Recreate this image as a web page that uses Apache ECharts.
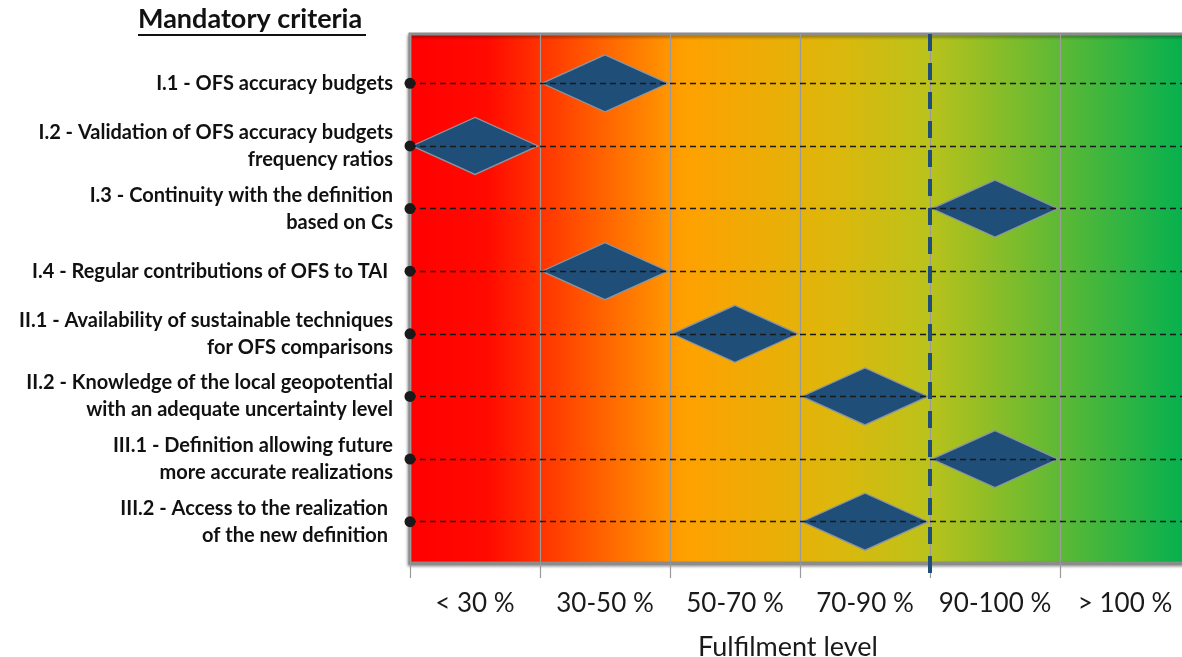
<!DOCTYPE html>
<html><head><meta charset="utf-8">
<script src="https://cdn.jsdelivr.net/npm/echarts@6/dist/echarts.min.js"></script>
<style>html,body{margin:0;padding:0;background:#fff}#c{width:1182px;height:657px}</style>
</head><body><div id="c"></div>
<script>
const criteria = [
  'I.1 - OFS accuracy budgets',
  'I.2 - Validation of OFS accuracy budgets\nfrequency ratios',
  'I.3 - Continuity with the definition\nbased on Cs',
  'I.4 - Regular contributions of OFS to TAI ',
  'II.1 - Availability of sustainable techniques\nfor OFS comparisons',
  'II.2 - Knowledge of the local geopotential\nwith an adequate uncertainty level',
  'III.1 - Definition allowing future\nmore accurate realizations',
  'III.2 - Access to the realization \nof the new definition '
];
const levels = ['< 30 %', '30-50 %', '50-70 %', '70-90 %', '90-100 %', '> 100 %'];
const fulfilment = ['30-50 %', '< 30 %', '90-100 %', '30-50 %', '50-70 %', '70-90 %', '90-100 %', '70-90 %'];
const thresholdBoundary = [4]; // boundary between "70-90 %" and "90-100 %"
const titleText = 'Mandatory criteria';
const axisTitle = 'Fulfilment level';

const chart = echarts.init(document.getElementById('c'), null, {renderer: 'canvas'});
const FONT = 'Lato';
const bg = new echarts.graphic.LinearGradient(0, 0, 1, 0, [
  {offset: 0.0, color: '#ff0000'},
  {offset: 0.1, color: '#ff0a00'},
  {offset: 0.35, color: '#ffa000'},
  {offset: 0.55, color: '#dcb80c'},
  {offset: 0.66, color: '#bcc21a'},
  {offset: 1.0, color: '#00b050'}
]);

chart.setOption({
  animation: false,
  textStyle: {fontFamily: FONT},
  graphic: [
    {type: 'text', left: 138, top: 6, style: {text: titleText, font: 'bold 27px Lato', fill: '#111'}},
    {type: 'line', shape: {x1: 138, y1: 35, x2: 366, y2: 35}, style: {stroke: '#111', lineWidth: 2}}
  ],
  grid: [
    {left: 410, width: 780, top: 34, bottom: 94, outerBoundsMode: 'none', containLabel: false,
     show: true, backgroundColor: bg,
     borderColor: '#8c8c8c', borderWidth: 3,
     shadowColor: 'rgba(0,0,0,0.35)', shadowBlur: 3, shadowOffsetX: -1, shadowOffsetY: 2},
    {left: 410, width: 780, top: 52, bottom: 104, outerBoundsMode: 'none', containLabel: false},
    {left: 410, width: 780, top: 34, bottom: 80, outerBoundsMode: 'none', containLabel: false}
  ],
  xAxis: [
    {gridIndex: 0, type: 'category', data: levels, boundaryGap: true,
     axisLine: {show: true, lineStyle: {color: '#8c8c8c', width: 3}},
     axisTick: {show: true, interval: 0, length: 15, lineStyle: {color: '#9a9a9a', width: 1.2}},
     splitLine: {show: true, interval: 0, lineStyle: {color: '#9a9a9a', width: 1.2}},
     axisLabel: {interval: 0, fontSize: 26, color: '#1a1a1a', margin: 28, fontFamily: FONT},
     name: axisTitle, nameLocation: 'middle', nameGap: 71,
     nameTextStyle: {fontSize: 27, color: '#1a1a1a', fontFamily: FONT, padding: [0, 24, 0, 0]}},
    {gridIndex: 1, type: 'category', data: levels, boundaryGap: true, show: false},
    {gridIndex: 2, type: 'value', min: 0, max: levels.length, show: false}
  ],
  yAxis: [
    {gridIndex: 0, type: 'value', min: 0, max: 1, show: false},
    {gridIndex: 1, type: 'category', data: criteria, inverse: true, boundaryGap: true,
     axisLine: {show: false}, axisTick: {show: false}, splitLine: {show: false},
     axisLabel: {interval: 0, fontSize: 20, fontWeight: 'bold', color: '#111', margin: 17, lineHeight: 27, fontFamily: FONT}},
    {gridIndex: 2, type: 'value', min: 0, max: 1, inverse: true, show: false}
  ],
  series: [
    {type: 'line', xAxisIndex: 1, yAxisIndex: 1, data: [], clip: false, z: 2,
     markLine: {silent: true, symbol: ['circle', 'none'], symbolSize: 11, animation: false,
       label: {show: false},
       lineStyle: {color: '#1a1a1a', type: [6, 4], width: 1.3},
       itemStyle: {color: '#000'},
       data: criteria.map(c => ({yAxis: c}))}},
    {type: 'scatter', xAxisIndex: 1, yAxisIndex: 1, z: 4,
     symbol: 'diamond', symbolSize: [126, 57],
     itemStyle: {color: '#1f4e79', borderColor: '#8a95a0', borderWidth: 1.5, opacity: 1},
     data: fulfilment.map((f, i) => [f, criteria[i]])},
    {type: 'line', xAxisIndex: 2, yAxisIndex: 2, data: [], clip: false, z: 5,
     markLine: {silent: true, symbol: ['none', 'none'], animation: false, label: {show: false},
       lineStyle: {color: '#1f4e79', type: [17, 12], width: 4},
       data: thresholdBoundary.map(v => ({xAxis: v}))}}
  ]
});
</script>
</body></html>
